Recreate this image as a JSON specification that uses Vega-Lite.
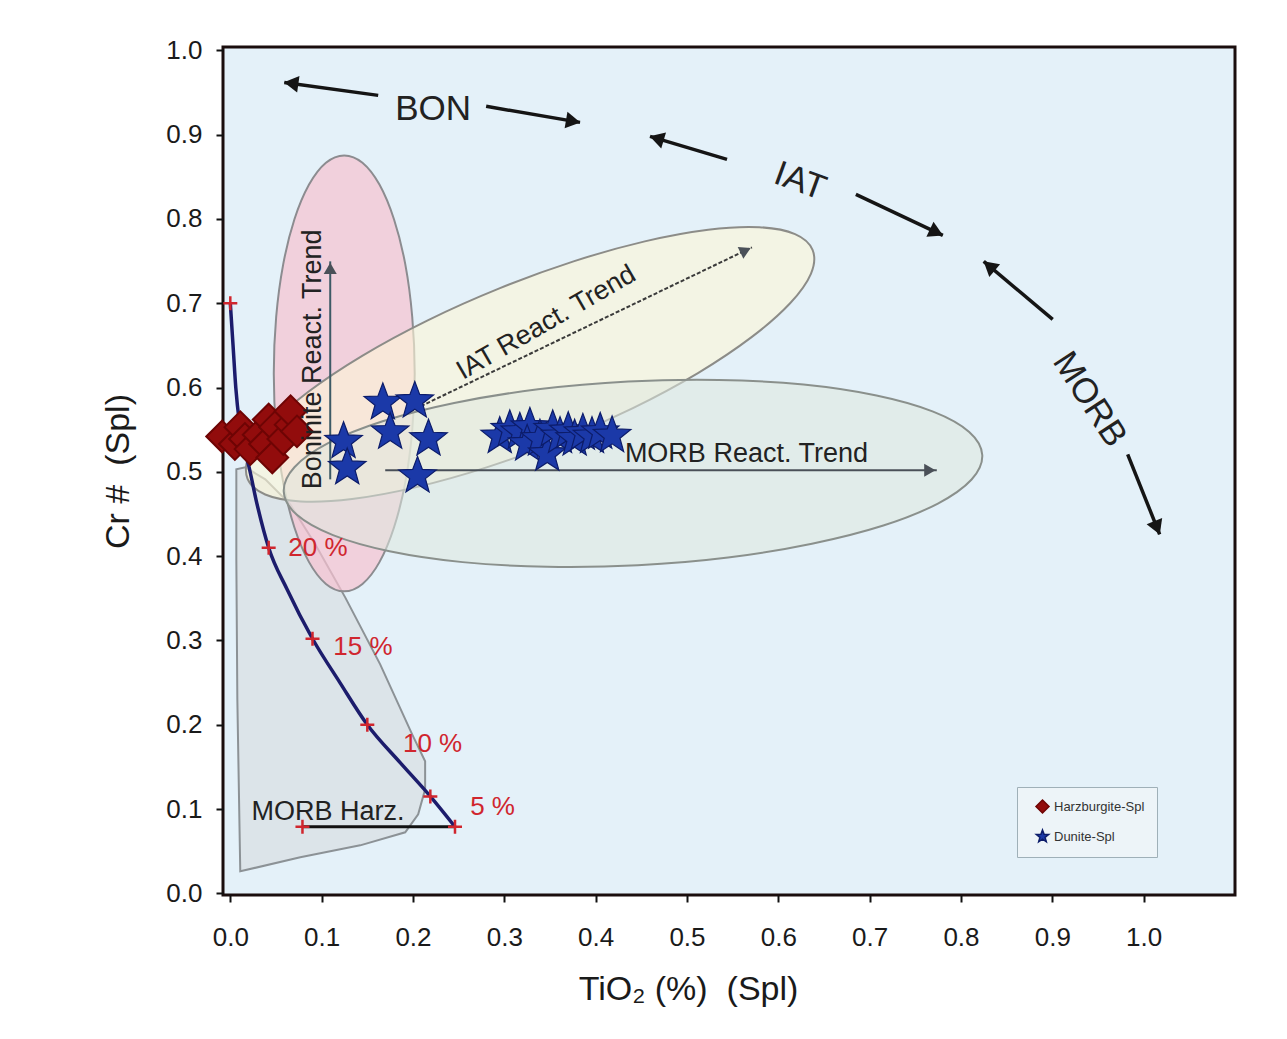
{
  "$schema": "https://vega.github.io/schema/vega-lite/v6.json",
  "width": 1012,
  "height": 848,
  "autosize": "none",
  "padding": {"left": 223, "top": 47, "right": 52, "bottom": 144},
  "background": "white",
  "config": {
    "font": "Liberation Sans",
    "view": {"fill": "#e4f1f9", "stroke": "#1a0d0d", "strokeWidth": 3},
    "axis": {"grid": false, "domain": false, "tickColor": "#111", "tickWidth": 2, "tickSize": 7, "labelFont": "Liberation Sans", "labelFontSize": 26, "labelColor": "#1a1a1a", "titleFont": "Liberation Sans", "titleFontSize": 34, "titleFontWeight": "normal", "titleColor": "#1a1a1a"},
    "legend": {"orient": "none", "legendX": 794, "legendY": 740, "padding": 12, "fillColor": "#edf4f8", "strokeColor": "#9fb0b8", "labelFontSize": 13, "labelColor": "#333", "symbolSize": 170, "symbolStrokeWidth": 1.5, "symbolOffset": 6, "rowPadding": 9, "labelFont": "Liberation Sans"}
  },
  "datasets": {
    "regions": [
      {"region": "pink", "i": 0, "x": 0.2019, "y": 0.6168},
      {"region": "pink", "i": 1, "x": 0.1992, "y": 0.6837},
      {"region": "pink", "i": 2, "x": 0.1916, "y": 0.7461},
      {"region": "pink", "i": 3, "x": 0.1792, "y": 0.7996},
      {"region": "pink", "i": 4, "x": 0.1633, "y": 0.8408},
      {"region": "pink", "i": 5, "x": 0.1447, "y": 0.8667},
      {"region": "pink", "i": 6, "x": 0.1247, "y": 0.8754},
      {"region": "pink", "i": 7, "x": 0.1047, "y": 0.8667},
      {"region": "pink", "i": 8, "x": 0.0862, "y": 0.8408},
      {"region": "pink", "i": 9, "x": 0.0702, "y": 0.7996},
      {"region": "pink", "i": 10, "x": 0.0579, "y": 0.7461},
      {"region": "pink", "i": 11, "x": 0.0502, "y": 0.6837},
      {"region": "pink", "i": 12, "x": 0.0476, "y": 0.6168},
      {"region": "pink", "i": 13, "x": 0.0502, "y": 0.5498},
      {"region": "pink", "i": 14, "x": 0.0579, "y": 0.4875},
      {"region": "pink", "i": 15, "x": 0.0702, "y": 0.4340},
      {"region": "pink", "i": 16, "x": 0.0862, "y": 0.3929},
      {"region": "pink", "i": 17, "x": 0.1047, "y": 0.3670},
      {"region": "pink", "i": 18, "x": 0.1247, "y": 0.3582},
      {"region": "pink", "i": 19, "x": 0.1447, "y": 0.3670},
      {"region": "pink", "i": 20, "x": 0.1633, "y": 0.3929},
      {"region": "pink", "i": 21, "x": 0.1792, "y": 0.4340},
      {"region": "pink", "i": 22, "x": 0.1916, "y": 0.4875},
      {"region": "pink", "i": 23, "x": 0.1992, "y": 0.5498},
      {"region": "yellow", "i": 0, "x": 0.6375, "y": 0.7632},
      {"region": "yellow", "i": 1, "x": 0.6183, "y": 0.7820},
      {"region": "yellow", "i": 2, "x": 0.5792, "y": 0.7902},
      {"region": "yellow", "i": 3, "x": 0.5232, "y": 0.7872},
      {"region": "yellow", "i": 4, "x": 0.4538, "y": 0.7734},
      {"region": "yellow", "i": 5, "x": 0.3758, "y": 0.7497},
      {"region": "yellow", "i": 6, "x": 0.2946, "y": 0.7177},
      {"region": "yellow", "i": 7, "x": 0.2156, "y": 0.6795},
      {"region": "yellow", "i": 8, "x": 0.1444, "y": 0.6377},
      {"region": "yellow", "i": 9, "x": 0.0858, "y": 0.5953},
      {"region": "yellow", "i": 10, "x": 0.0435, "y": 0.5550},
      {"region": "yellow", "i": 11, "x": 0.0207, "y": 0.5198},
      {"region": "yellow", "i": 12, "x": 0.0189, "y": 0.4918},
      {"region": "yellow", "i": 13, "x": 0.0382, "y": 0.4731},
      {"region": "yellow", "i": 14, "x": 0.0772, "y": 0.4649},
      {"region": "yellow", "i": 15, "x": 0.1333, "y": 0.4678},
      {"region": "yellow", "i": 16, "x": 0.2026, "y": 0.4816},
      {"region": "yellow", "i": 17, "x": 0.2806, "y": 0.5053},
      {"region": "yellow", "i": 18, "x": 0.3619, "y": 0.5374},
      {"region": "yellow", "i": 19, "x": 0.4408, "y": 0.5756},
      {"region": "yellow", "i": 20, "x": 0.5120, "y": 0.6172},
      {"region": "yellow", "i": 21, "x": 0.5707, "y": 0.6598},
      {"region": "yellow", "i": 22, "x": 0.6129, "y": 0.7000},
      {"region": "yellow", "i": 23, "x": 0.6358, "y": 0.7352},
      {"region": "green", "i": 0, "x": 0.8233, "y": 0.5199},
      {"region": "green", "i": 1, "x": 0.8090, "y": 0.5474},
      {"region": "green", "i": 2, "x": 0.7695, "y": 0.5715},
      {"region": "green", "i": 3, "x": 0.7075, "y": 0.5906},
      {"region": "green", "i": 4, "x": 0.6276, "y": 0.6036},
      {"region": "green", "i": 5, "x": 0.5349, "y": 0.6091},
      {"region": "green", "i": 6, "x": 0.4357, "y": 0.6072},
      {"region": "green", "i": 7, "x": 0.3369, "y": 0.5979},
      {"region": "green", "i": 8, "x": 0.2451, "y": 0.5817},
      {"region": "green", "i": 9, "x": 0.1668, "y": 0.5600},
      {"region": "green", "i": 10, "x": 0.1071, "y": 0.5340},
      {"region": "green", "i": 11, "x": 0.0702, "y": 0.5055},
      {"region": "green", "i": 12, "x": 0.0585, "y": 0.4765},
      {"region": "green", "i": 13, "x": 0.0729, "y": 0.4490},
      {"region": "green", "i": 14, "x": 0.1124, "y": 0.4249},
      {"region": "green", "i": 15, "x": 0.1743, "y": 0.4058},
      {"region": "green", "i": 16, "x": 0.2543, "y": 0.3929},
      {"region": "green", "i": 17, "x": 0.3469, "y": 0.3873},
      {"region": "green", "i": 18, "x": 0.4462, "y": 0.3891},
      {"region": "green", "i": 19, "x": 0.5450, "y": 0.3983},
      {"region": "green", "i": 20, "x": 0.6368, "y": 0.4147},
      {"region": "green", "i": 21, "x": 0.7150, "y": 0.4363},
      {"region": "green", "i": 22, "x": 0.7747, "y": 0.4624},
      {"region": "green", "i": 23, "x": 0.8116, "y": 0.4909},
      {"region": "gray", "i": 0, "x": 0.0066, "y": 0.5030},
      {"region": "gray", "i": 1, "x": 0.0066, "y": 0.3962},
      {"region": "gray", "i": 2, "x": 0.0077, "y": 0.2301},
      {"region": "gray", "i": 3, "x": 0.0109, "y": 0.0261},
      {"region": "gray", "i": 4, "x": 0.0766, "y": 0.0427},
      {"region": "gray", "i": 5, "x": 0.1422, "y": 0.0569},
      {"region": "gray", "i": 6, "x": 0.1915, "y": 0.0724},
      {"region": "gray", "i": 7, "x": 0.2057, "y": 0.0937},
      {"region": "gray", "i": 8, "x": 0.2133, "y": 0.1234},
      {"region": "gray", "i": 9, "x": 0.2133, "y": 0.1566},
      {"region": "gray", "i": 10, "x": 0.1991, "y": 0.1886},
      {"region": "gray", "i": 11, "x": 0.1641, "y": 0.2716},
      {"region": "gray", "i": 12, "x": 0.1258, "y": 0.3511},
      {"region": "gray", "i": 13, "x": 0.0930, "y": 0.4140},
      {"region": "gray", "i": 14, "x": 0.0656, "y": 0.4614},
      {"region": "gray", "i": 15, "x": 0.0383, "y": 0.4911},
      {"region": "gray", "i": 16, "x": 0.0164, "y": 0.5053}
    ],
    "samples": [
      {"type": "Harzburgite-Spl", "x": -0.009, "y": 0.542},
      {"type": "Harzburgite-Spl", "x": 0.005, "y": 0.533},
      {"type": "Harzburgite-Spl", "x": 0.011, "y": 0.553},
      {"type": "Harzburgite-Spl", "x": 0.016, "y": 0.539},
      {"type": "Harzburgite-Spl", "x": 0.022, "y": 0.527},
      {"type": "Harzburgite-Spl", "x": 0.031, "y": 0.544},
      {"type": "Harzburgite-Spl", "x": 0.038, "y": 0.533},
      {"type": "Harzburgite-Spl", "x": 0.042, "y": 0.562},
      {"type": "Harzburgite-Spl", "x": 0.046, "y": 0.517},
      {"type": "Harzburgite-Spl", "x": 0.049, "y": 0.553},
      {"type": "Harzburgite-Spl", "x": 0.058, "y": 0.539},
      {"type": "Harzburgite-Spl", "x": 0.066, "y": 0.556},
      {"type": "Harzburgite-Spl", "x": 0.066, "y": 0.572},
      {"type": "Harzburgite-Spl", "x": 0.073, "y": 0.548},
      {"type": "Dunite-Spl", "x": 0.124, "y": 0.536},
      {"type": "Dunite-Spl", "x": 0.128, "y": 0.505},
      {"type": "Dunite-Spl", "x": 0.167, "y": 0.582},
      {"type": "Dunite-Spl", "x": 0.202, "y": 0.584},
      {"type": "Dunite-Spl", "x": 0.175, "y": 0.547},
      {"type": "Dunite-Spl", "x": 0.217, "y": 0.539},
      {"type": "Dunite-Spl", "x": 0.205, "y": 0.495},
      {"type": "Dunite-Spl", "x": 0.295, "y": 0.542},
      {"type": "Dunite-Spl", "x": 0.306, "y": 0.550},
      {"type": "Dunite-Spl", "x": 0.317, "y": 0.547},
      {"type": "Dunite-Spl", "x": 0.328, "y": 0.553},
      {"type": "Dunite-Spl", "x": 0.325, "y": 0.533},
      {"type": "Dunite-Spl", "x": 0.339, "y": 0.539},
      {"type": "Dunite-Spl", "x": 0.347, "y": 0.521},
      {"type": "Dunite-Spl", "x": 0.353, "y": 0.550},
      {"type": "Dunite-Spl", "x": 0.361, "y": 0.542},
      {"type": "Dunite-Spl", "x": 0.370, "y": 0.548},
      {"type": "Dunite-Spl", "x": 0.377, "y": 0.539},
      {"type": "Dunite-Spl", "x": 0.386, "y": 0.546},
      {"type": "Dunite-Spl", "x": 0.396, "y": 0.542},
      {"type": "Dunite-Spl", "x": 0.405, "y": 0.547},
      {"type": "Dunite-Spl", "x": 0.418, "y": 0.543}
    ]
  },
  "encoding": {
    "x": {"field": "x", "type": "quantitative", "scale": {"domain": [-0.008, 1.1], "nice": false, "zero": false}, "axis": {"values": [0, 0.1, 0.2, 0.3, 0.4, 0.5, 0.6, 0.7, 0.8, 0.9, 1.0], "format": ".1f", "title": "TiO₂ (%) \u00a0(Spl)", "labelPadding": 22, "titlePadding": 22, "titleX": 465}},
    "y": {"field": "y", "type": "quantitative", "scale": {"domain": [-0.002, 1.004], "nice": false, "zero": false}, "axis": {"values": [0, 0.1, 0.2, 0.3, 0.4, 0.5, 0.6, 0.7, 0.8, 0.9, 1.0], "format": ".1f", "title": "Cr # \u00a0(Spl)", "labelPadding": 14, "titlePadding": 30}}
  },
  "layer": [
    {
      "data": {"name": "regions"},
      "transform": [{"filter": "datum.region == 'gray'"}],
      "mark": {"type": "line", "interpolate": "linear-closed", "fill": "#d6d9dc", "fillOpacity": 0.55, "stroke": "#8c9296", "strokeWidth": 2},
      "encoding": {"order": {"field": "i", "type": "quantitative"}}
    },
    {
      "data": {"name": "regions"},
      "transform": [{"filter": "datum.region == 'pink'"}],
      "mark": {"type": "line", "interpolate": "cardinal-closed", "fill": "#f6c2d0", "fillOpacity": 0.7, "stroke": "#8c8c90", "strokeWidth": 2},
      "encoding": {"order": {"field": "i", "type": "quantitative"}}
    },
    {
      "data": {"name": "regions"},
      "transform": [{"filter": "datum.region == 'yellow'"}],
      "mark": {"type": "line", "interpolate": "cardinal-closed", "fill": "#fcf6d6", "fillOpacity": 0.62, "stroke": "#8c8c88", "strokeWidth": 2},
      "encoding": {"order": {"field": "i", "type": "quantitative"}}
    },
    {
      "data": {"name": "regions"},
      "transform": [{"filter": "datum.region == 'green'"}],
      "mark": {"type": "line", "interpolate": "cardinal-closed", "fill": "#dfe7df", "fillOpacity": 0.55, "stroke": "#8a908c", "strokeWidth": 2},
      "encoding": {"order": {"field": "i", "type": "quantitative"}}
    },
    {
      "data": {"values": [{"x": 0.079, "x2": 0.246, "y": 0.079}]},
      "mark": {"type": "rule", "color": "#111", "strokeWidth": 3},
      "encoding": {"x2": {"field": "x2"}}
    },
    {
      "data": {"values": [
        {"i": 0, "x": 0.0, "y": 0.700},
        {"i": 1, "x": 0.003, "y": 0.650},
        {"i": 2, "x": 0.006, "y": 0.600},
        {"i": 3, "x": 0.010, "y": 0.558},
        {"i": 4, "x": 0.015, "y": 0.528},
        {"i": 5, "x": 0.020, "y": 0.508},
        {"i": 6, "x": 0.029, "y": 0.463},
        {"i": 7, "x": 0.042, "y": 0.410},
        {"i": 8, "x": 0.062, "y": 0.361},
        {"i": 9, "x": 0.090, "y": 0.302},
        {"i": 10, "x": 0.120, "y": 0.250},
        {"i": 11, "x": 0.150, "y": 0.200},
        {"i": 12, "x": 0.186, "y": 0.155},
        {"i": 13, "x": 0.219, "y": 0.115},
        {"i": 14, "x": 0.246, "y": 0.079}
      ]},
      "mark": {"type": "line", "interpolate": "monotone", "color": "#1c1c6c", "strokeWidth": 3.5},
      "encoding": {"order": {"field": "i", "type": "quantitative"}}
    },
    {
      "data": {"values": [
        {"x": 0.0, "y": 0.700},
        {"x": 0.042, "y": 0.410},
        {"x": 0.090, "y": 0.302},
        {"x": 0.150, "y": 0.200},
        {"x": 0.219, "y": 0.115},
        {"x": 0.246, "y": 0.079},
        {"x": 0.079, "y": 0.079}
      ]},
      "mark": {"type": "point", "shape": "M-1,0L1,0M0,-1L0,1", "filled": false, "stroke": "#d0262e", "strokeWidth": 2.5, "size": 196, "opacity": 1}
    },
    {
      "data": {"values": [
        {"x": 0.1094, "y": 0.4911, "x2": 0.1094, "y2": 0.7497}
      ]},
      "mark": {"type": "rule", "color": "#3d5a66", "strokeWidth": 2},
      "encoding": {"x2": {"field": "x2"}, "y2": {"field": "y2"}}
    },
    {
      "data": {"values": [
        {"x": 0.1696, "y": 0.5018, "x2": 0.7735, "y2": 0.5018}
      ]},
      "mark": {"type": "rule", "color": "#4a5058", "strokeWidth": 2},
      "encoding": {"x2": {"field": "x2"}, "y2": {"field": "y2"}}
    },
    {
      "data": {"values": [
        {"x": 0.1969, "y": 0.5718, "x2": 0.5711, "y2": 0.7663}
      ]},
      "mark": {"type": "rule", "color": "#3a3a3a", "strokeWidth": 2, "strokeDash": [4, 2]},
      "encoding": {"x2": {"field": "x2"}, "y2": {"field": "y2"}}
    },
    {
      "data": {"values": [
        {"x": 0.1094, "y": 0.7414, "heading": 0},
        {"x": 0.7659, "y": 0.5018, "heading": 90},
        {"x": 0.5642, "y": 0.7628, "heading": 64.4}
      ]},
      "mark": {"type": "point", "shape": "triangle-up", "filled": true, "color": "#4a5058", "size": 170, "opacity": 1},
      "encoding": {"angle": {"field": "heading", "type": "quantitative", "scale": null}}
    },
    {
      "data": {"values": [
        {"x": 0.1619, "y": 0.9466, "x2": 0.0591, "y2": 0.9620},
        {"x": 0.2801, "y": 0.9336, "x2": 0.3829, "y2": 0.9146},
        {"x": 0.5438, "y": 0.8707, "x2": 0.4595, "y2": 0.8980},
        {"x": 0.6849, "y": 0.8292, "x2": 0.7801, "y2": 0.7805},
        {"x": 0.9004, "y": 0.6809, "x2": 0.8249, "y2": 0.7497},
        {"x": 0.9825, "y": 0.5208, "x2": 1.0175, "y2": 0.4259}
      ]},
      "mark": {"type": "rule", "color": "#151515", "strokeWidth": 3.5},
      "encoding": {"x2": {"field": "x2"}, "y2": {"field": "y2"}}
    },
    {
      "data": {"values": [
        {"x": 0.0666, "y": 0.9609, "heading": 278},
        {"x": 0.3754, "y": 0.9160, "heading": 99.7},
        {"x": 0.4668, "y": 0.8956, "heading": 286.6},
        {"x": 0.7732, "y": 0.7841, "heading": 115.2},
        {"x": 0.8308, "y": 0.7443, "heading": 310},
        {"x": 1.0147, "y": 0.4336, "heading": 158.2}
      ]},
      "mark": {"type": "point", "shape": "triangle-up", "filled": true, "color": "#151515", "size": 280, "opacity": 1},
      "encoding": {"angle": {"field": "heading", "type": "quantitative", "scale": null}}
    },
    {
      "data": {"name": "samples"},
      "transform": [{"filter": "datum.type == 'Harzburgite-Spl'"}],
      "mark": {"type": "point", "filled": true, "strokeWidth": 2, "size": 1000, "opacity": 1},
      "encoding": {
        "shape": {"field": "type", "type": "nominal", "title": null, "scale": {"domain": ["Harzburgite-Spl", "Dunite-Spl"], "range": ["diamond", "M0,-1L0.247,-0.34L0.951,-0.309L0.399,0.13L0.588,0.809L0,0.42L-0.588,0.809L-0.399,0.13L-0.951,-0.309L-0.247,-0.34Z"]}},
        "fill": {"field": "type", "type": "nominal", "title": null, "scale": {"domain": ["Harzburgite-Spl", "Dunite-Spl"], "range": ["#920c0c", "#1b39a8"]}},
        "stroke": {"field": "type", "type": "nominal", "title": null, "scale": {"domain": ["Harzburgite-Spl", "Dunite-Spl"], "range": ["#6e0404", "#0c1c6a"]}}
      }
    },
    {
      "data": {"name": "samples"},
      "transform": [{"filter": "datum.type == 'Dunite-Spl'"}],
      "mark": {"type": "point", "filled": true, "strokeWidth": 1.2, "size": 1550, "opacity": 1},
      "encoding": {
        "shape": {"field": "type", "type": "nominal", "title": null},
        "fill": {"field": "type", "type": "nominal", "title": null},
        "stroke": {"field": "type", "type": "nominal", "title": null}
      }
    },
    {
      "data": {"values": [{"x": 0.222, "y": 0.930, "t": "BON"}]},
      "mark": {"type": "text", "fontSize": 35, "color": "#222"},
      "encoding": {"text": {"field": "t"}}
    },
    {
      "data": {"values": [{"x": 0.624, "y": 0.845, "t": "IAT"}]},
      "mark": {"type": "text", "fontSize": 35, "color": "#222", "angle": 20},
      "encoding": {"text": {"field": "t"}}
    },
    {
      "data": {"values": [{"x": 0.941, "y": 0.586, "t": "MORB"}]},
      "mark": {"type": "text", "fontSize": 35, "color": "#222", "angle": 57},
      "encoding": {"text": {"field": "t"}}
    },
    {
      "data": {"values": [{"x": 0.432, "y": 0.521, "t": "MORB React. Trend"}]},
      "mark": {"type": "text", "fontSize": 27, "color": "#222", "align": "left"},
      "encoding": {"text": {"field": "t"}}
    },
    {
      "data": {"values": [{"x": 0.346, "y": 0.677, "t": "IAT React. Trend"}]},
      "mark": {"type": "text", "fontSize": 27, "color": "#222", "angle": -30},
      "encoding": {"text": {"field": "t"}}
    },
    {
      "data": {"values": [{"x": 0.0908, "y": 0.6335, "t": "Boninite React. Trend"}]},
      "mark": {"type": "text", "fontSize": 27, "color": "#222", "angle": -90},
      "encoding": {"text": {"field": "t"}}
    },
    {
      "data": {"values": [{"x": 0.107, "y": 0.097, "t": "MORB Harz."}]},
      "mark": {"type": "text", "fontSize": 27, "color": "#222"},
      "encoding": {"text": {"field": "t"}}
    },
    {
      "data": {"values": [
        {"x": 0.0635, "y": 0.410, "t": "20 %"},
        {"x": 0.1127, "y": 0.292, "t": "15 %"},
        {"x": 0.189, "y": 0.177, "t": "10 %"},
        {"x": 0.2626, "y": 0.102, "t": "5 %"}
      ]},
      "mark": {"type": "text", "fontSize": 26, "color": "#d0262e", "align": "left"},
      "encoding": {"text": {"field": "t"}}
    }
  ]
}
